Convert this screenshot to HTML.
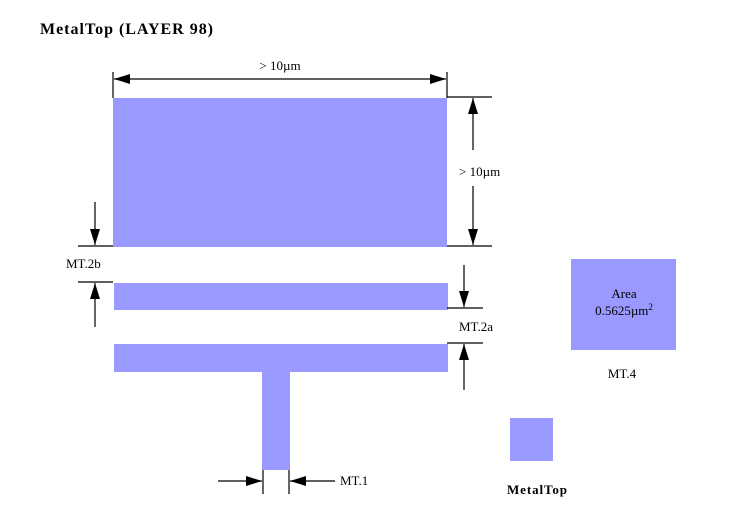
<!DOCTYPE html>
<html><head><meta charset="utf-8"><style>
html,body{margin:0;padding:0;background:#fff;}
svg{display:block;}
text{font-family:"Liberation Serif",serif;fill:#000;}
</style></head><body>
<svg width="731" height="527" viewBox="0 0 731 527" xmlns="http://www.w3.org/2000/svg">
<defs>
<marker id="a" viewBox="0 0 16 10" refX="16" refY="5" markerWidth="16" markerHeight="10" markerUnits="userSpaceOnUse" orient="auto"><path d="M0,0 L16,5 L0,10 Z" fill="#000"/></marker>
</defs>
<text x="40" y="34" font-size="16" font-weight="bold" textLength="173" lengthAdjust="spacing">MetalTop (LAYER 98)</text>
<g fill="#9999ff">
<rect x="113" y="98" width="334" height="149"/>
<rect x="114" y="283" width="334" height="27"/>
<rect x="114" y="344" width="334" height="28"/>
<rect x="262" y="371" width="28" height="99"/>
<rect x="571" y="259" width="105" height="91"/>
<rect x="510" y="418" width="43" height="43"/>
</g>
<g stroke="#000" stroke-width="1.2" fill="none">
<line x1="113" y1="72" x2="113" y2="98"/>
<line x1="447" y1="72" x2="447" y2="98"/>
<line x1="280" y1="79" x2="114" y2="79" marker-end="url(#a)"/>
<line x1="280" y1="79" x2="446" y2="79" marker-end="url(#a)"/>
<line x1="447" y1="97" x2="492" y2="97"/>
<line x1="447" y1="246" x2="492" y2="246"/>
<line x1="473" y1="150" x2="473" y2="98" marker-end="url(#a)"/>
<line x1="473" y1="186" x2="473" y2="245" marker-end="url(#a)"/>
<line x1="78" y1="246" x2="113" y2="246"/>
<line x1="78" y1="282" x2="113" y2="282"/>
<line x1="95" y1="202" x2="95" y2="245" marker-end="url(#a)"/>
<line x1="95" y1="327" x2="95" y2="283" marker-end="url(#a)"/>
<line x1="447" y1="308" x2="483" y2="308"/>
<line x1="447" y1="343" x2="483" y2="343"/>
<line x1="464" y1="265" x2="464" y2="307" marker-end="url(#a)"/>
<line x1="464" y1="390" x2="464" y2="344" marker-end="url(#a)"/>
<line x1="263" y1="470" x2="263" y2="494"/>
<line x1="289" y1="470" x2="289" y2="494"/>
<line x1="218" y1="481" x2="262" y2="481" marker-end="url(#a)"/>
<line x1="335" y1="481" x2="290" y2="481" marker-end="url(#a)"/>
</g>
<g font-size="13">
<text x="280" y="70" text-anchor="middle">&gt; 10µm</text>
<text x="459" y="176">&gt; 10µm</text>
<text x="66" y="268">MT.2b</text>
<text x="459" y="331">MT.2a</text>
<text x="340" y="485">MT.1</text>
<text x="624" y="298" text-anchor="middle">Area</text>
<text x="624" y="315" text-anchor="middle">0.5625µm<tspan font-size="9" dy="-5">2</tspan></text>
<text x="622" y="378" text-anchor="middle">MT.4</text>
<text x="507" y="494" font-weight="bold" textLength="60" lengthAdjust="spacing">MetalTop</text>
</g>
</svg>
</body></html>
